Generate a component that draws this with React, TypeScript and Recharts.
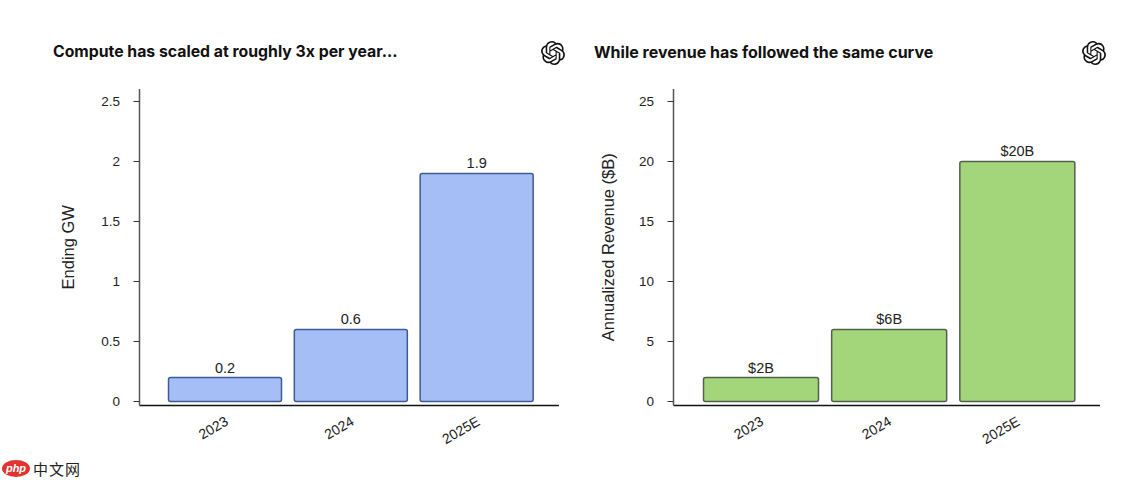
import React from 'react';
import { BarChart, Bar, XAxis, YAxis, LabelList } from 'recharts';

const YEARS = ['2023', '2024', '2025E'];
const COMPUTE_GW = [0.2, 0.6, 1.9];
const REVENUE_B = [2, 6, 20];
const COMPUTE_TICKS = [0, 0.5, 1, 1.5, 2, 2.5];
const REVENUE_TICKS = [0, 5, 10, 15, 20, 25];

const computeData = YEARS.map((year, i) => ({ year, value: COMPUTE_GW[i] }));
const revenueData = YEARS.map((year, i) => ({ year, value: REVENUE_B[i] }));

const OPENAI_PATH =
  'M22.2819 9.8211a5.9847 5.9847 0 0 0-.5157-4.9108 6.0462 6.0462 0 0 0-6.5098-2.9A6.0651 6.0651 0 0 0 4.9807 4.1818a5.9847 5.9847 0 0 0-3.9977 2.9 6.0462 6.0462 0 0 0 .7427 7.0966 5.98 5.98 0 0 0 .511 4.9107 6.051 6.051 0 0 0 6.5146 2.9001A5.9847 5.9847 0 0 0 13.2599 24a6.0557 6.0557 0 0 0 5.7718-4.2058 5.9894 5.9894 0 0 0 3.9977-2.9001 6.0557 6.0557 0 0 0-.7475-7.0729zm-9.022 12.6081a4.4755 4.4755 0 0 1-2.8764-1.0408l.1419-.0804 4.7783-2.7582a.7948.7948 0 0 0 .3927-.6813v-6.7369l2.02 1.1686a.071.071 0 0 1 .038.052v5.5826a4.504 4.504 0 0 1-4.4945 4.4944zm-9.6607-4.1254a4.4708 4.4708 0 0 1-.5346-3.0137l.142.0852 4.783 2.7582a.7712.7712 0 0 0 .7806 0l5.8428-3.3685v2.3324a.0804.0804 0 0 1-.0332.0615L9.74 19.9502a4.4992 4.4992 0 0 1-6.1408-1.6464zM2.3408 7.8956a4.485 4.485 0 0 1 2.3655-1.9728V11.6a.7664.7664 0 0 0 .3879.6765l5.8144 3.3543-2.0201 1.1685a.0757.0757 0 0 1-.071 0l-4.8303-2.7865A4.504 4.504 0 0 1 2.3408 7.872zm16.5963 3.8558L13.1038 8.364 15.1192 7.2a.0757.0757 0 0 1 .071 0l4.8303 2.7913a4.4944 4.4944 0 0 1-.6765 8.1042v-5.6772a.79.79 0 0 0-.407-.667zm2.0107-3.0231l-.142-.0852-4.7735-2.7818a.7759.7759 0 0 0-.7854 0L9.409 9.2297V6.8974a.0662.0662 0 0 1 .0284-.0615l4.8303-2.7866a4.4992 4.4992 0 0 1 6.6802 4.66zM8.3065 12.863l-2.02-1.1638a.0804.0804 0 0 1-.038-.0567V6.0742a4.4992 4.4992 0 0 1 7.3757-3.4537l-.142.0805L8.704 5.459a.7948.7948 0 0 0-.3927.6813zm1.0976-2.3654l2.602-1.4998 2.6069 1.4998v2.9994l-2.5974 1.4997-2.6067-1.4997Z';

const SANS = '"Liberation Sans", Arial, sans-serif';

const YearTick = ({ x, y, payload }: any) => (
  <text
    x={x + 2}
    y={y + 7.5}
    transform={`rotate(-30 ${x + 2} ${y + 7.5})`}
    textAnchor="end"
    dominantBaseline="middle"
    fontSize={14}
    fontFamily={SANS}
    fill="#222"
  >
    {payload.value}
  </text>
);

const Title = ({ left, text, size }: { left: number; text: string; size: number }) => (
  <div
    style={{
      position: 'absolute',
      left,
      top: 42,
      fontFamily: 'Inter, sans-serif',
      fontWeight: 700,
      fontSize: size,
      lineHeight: '20px',
      color: '#111',
      whiteSpace: 'nowrap',
    }}
  >
    {text}
  </div>
);

const Logo = ({ left }: { left: number }) => (
  <svg style={{ position: 'absolute', left, top: 41 }} width={24} height={24} viewBox="0 0 24 24">
    <path d={OPENAI_PATH} fill="#111" />
  </svg>
);

const Panel = ({ left, width, axisWidth, rightPad, data, domain, ticks, fill, stroke, barSize, yLabel, labelDx, format }: any) => (
  <div style={{ position: 'absolute', left, top: 0 }}>
    <BarChart
      width={width}
      height={480}
      data={data}
      margin={{ top: 89, right: rightPad, bottom: 0, left: 0 }}
    >
      <XAxis
        dataKey="year"
        height={74.5}
        axisLine={{ stroke: '#111', strokeWidth: 1.5 }}
        tickLine={false}
        tick={<YearTick />}
        padding={{ left: 23, right: 19 }}
        interval={0}
      />
      <YAxis
        type="number"
        width={axisWidth}
        domain={domain}
        ticks={ticks}
        allowDataOverflow
        axisLine={{ stroke: '#555', strokeWidth: 1.5 }}
        tickLine={{ stroke: '#333' }}
        tickSize={6}
        tickMargin={13.5}
        tick={{ fontSize: 13.5, fontFamily: SANS, fill: '#222' }}
        label={{
          value: yLabel,
          angle: -90,
          position: 'center',
          dx: labelDx,
          style: { fontSize: 16.5, fontFamily: SANS, fill: '#222' },
        }}
      />
      <Bar
        dataKey="value"
        fill={fill}
        stroke={stroke}
        strokeWidth={1.5}
        barSize={barSize}
        radius={2}
        isAnimationActive={false}
      >
        <LabelList
          dataKey="value"
          position="top"
          offset={5}
          formatter={format}
          style={{ fontSize: 14.5, fontFamily: SANS, fill: '#222' }}
        />
      </Bar>
    </BarChart>
  </div>
);

export default function App() {
  return (
    <div style={{ position: 'absolute', left: 0, top: 0, width: 1143, height: 480, background: '#fff', overflow: 'hidden' }}>
      <Title left={53} size={15.8} text="Compute has scaled at roughly 3x per year..." />
      <Title left={594} size={16} text="While revenue has followed the same curve" />
      <Logo left={541} />
      <Logo left={1082} />
      <Panel
        left={0}
        width={570}
        axisWidth={139.5}
        rightPad={11}
        data={computeData}
        domain={[-0.0333, 2.604]}
        ticks={COMPUTE_TICKS}
        fill="#A5BEF5"
        stroke="#3F5A94"
        barSize={113}
        yLabel="Ending GW"
        labelDx={-2}
        format={(v: number) => String(v)}
      />
      <Panel
        left={570}
        width={573}
        axisWidth={103.5}
        rightPad={43}
        data={revenueData}
        domain={[-0.333, 26.04]}
        ticks={REVENUE_TICKS}
        fill="#A3D67A"
        stroke="#555F50"
        barSize={115}
        yLabel="Annualized Revenue ($B)"
        labelDx={-14}
        format={(v: number) => `$${v}B`}
      />
      <div style={{ position: 'absolute', left: 2, top: 459.5, display: 'flex', alignItems: 'center', height: 18 }}>
        <div
          style={{
            width: 28,
            height: 17,
            borderRadius: '50%',
            background: '#E2342F',
            color: '#fff',
            fontFamily: SANS,
            fontStyle: 'italic',
            fontWeight: 700,
            fontSize: 11,
            lineHeight: '16px',
            textAlign: 'center',
          }}
        >
          php
        </div>
        <div style={{ marginLeft: 3, fontFamily: '"Noto Sans CJK SC", sans-serif', fontSize: 15, letterSpacing: 1, lineHeight: '18px', color: '#222', whiteSpace: 'nowrap' }}>
          中文网
        </div>
      </div>
    </div>
  );
}
